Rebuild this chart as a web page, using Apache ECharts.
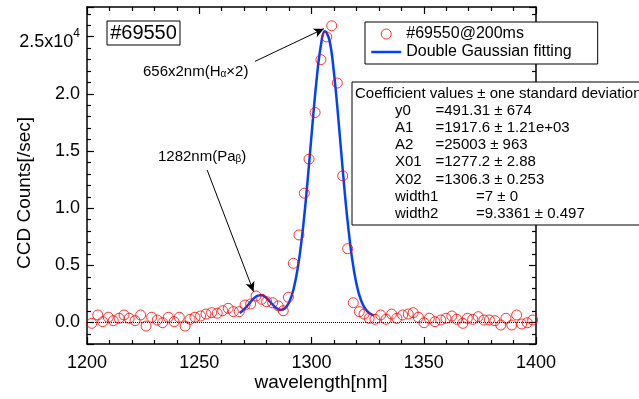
<!DOCTYPE html>
<html>
<head>
<meta charset="utf-8">
<script src="https://cdn.jsdelivr.net/npm/echarts@6/dist/echarts.min.js"></script>
<style>
  html, body { margin: 0; padding: 0; background: #fff; }
  #main { width: 639px; height: 399px; }
</style>
</head>
<body>
<div id="main"></div>
<script>
// measured points (#69550@200ms)
const wavelength = [
  1202.1, 1204.8, 1207.0, 1209.5, 1211.7, 1214.3, 1216.5, 1218.8, 1221.4, 1223.9,
  1226.3, 1228.8, 1231.3, 1233.7, 1236.2, 1238.8, 1241.1, 1243.7, 1245.9, 1248.1,
  1250.6, 1253.0, 1255.5, 1258.0, 1260.4, 1262.9, 1265.2, 1267.8, 1270.4, 1272.9,
  1275.3, 1277.8, 1280.0, 1282.7, 1285.2, 1287.4, 1289.7, 1291.9, 1294.4, 1296.8,
  1298.9, 1301.6, 1304.2, 1306.8, 1309.0, 1311.5, 1313.9, 1316.1, 1318.6, 1321.3,
  1323.4, 1325.7, 1328.3, 1330.8, 1333.2, 1335.7, 1338.0, 1340.6, 1343.1, 1345.3,
  1347.6, 1350.1, 1352.5, 1355.0, 1357.6, 1359.9, 1362.5, 1364.7, 1367.4, 1369.4,
  1371.8, 1374.3, 1376.8, 1379.2, 1381.7, 1384.3, 1386.6, 1389.2, 1391.4, 1393.6,
  1396.1, 1398.5
];
const counts = [
  -70, 660, 70, 460, 160, 370, 660, 370, 160, 660,
  -310, 460, 220, -20, 460, 70, 460, -310, 280, 460,
  570, 740, 860, 810, 1030, 1240, 950, 950, 1530, 1620,
  2320, 2030, 1820, 1730, 1450, 1030, 2210, 5180, 7660, 11310,
  14290, 18370, 22990, 24980, 25960, 20950, 12830, 6460, 1730, 950,
  740, 370, 280, 660, 280, 740, 370, 660, 740, 860,
  460, -20, 370, 70, 220, 370, 570, 280, -70, 370,
  280, 510, 220, 220, 160, -220, 370, -220, 660, -130,
  -20, 220
];

// fitted curve
const fitWavelength = [
  1268, 1270, 1272, 1274, 1276, 1278, 1280, 1282, 1284, 1286,
  1288, 1290, 1292, 1294, 1296, 1298, 1300, 1302, 1304, 1306,
  1308, 1310, 1312, 1314, 1316, 1318, 1320, 1322, 1324, 1326, 1328
];
const fitCounts = [
  830, 1160, 1600, 2050, 2350, 2390, 2130, 1720, 1320, 1110,
  1210, 1750, 2910, 4910, 7900, 11840, 16360, 20720, 24020, 25470,
  24680, 21860, 17720, 13160, 8990, 5700, 3400, 1970, 1180, 780, 600
];

const seriesNames = ["#69550@200ms", "Double Gaussian fitting"];
const coefNames = ["y0", "A1", "A2", "X01", "X02", "width1", "width2"];
const coefValues = [
  "=491.31 ± 674", "=1917.6 ± 1.21e+03", "=25003 ± 963", "=1277.2 ± 2.88",
  "=1306.3 ± 0.253", "=7 ± 0", "=9.3361 ± 0.497"
];

const font = '"Liberation Sans", Arial, Helvetica, sans-serif';

const chart = echarts.init(document.getElementById("main"));

const axisBase = {
  type: "value",
  splitLine: { show: false },
  axisLine: { show: true, onZero: false, lineStyle: { color: "#000", width: 1.5 } },
  axisTick: { show: true, inside: true, length: 7, lineStyle: { color: "#000", width: 1.2 } },
  minorTick: { show: true, splitNumber: 5, length: 4, lineStyle: { color: "#000", width: 1.2 } },
};

const xBase = { ...axisBase, min: 1200, max: 1400, interval: 50 };
const yBase = { ...axisBase, min: -1880, max: 27600, minInterval: 5000, maxInterval: 5000 };

const subRich = { sub: { fontSize: 10, lineHeight: 10, verticalAlign: "bottom", fontFamily: font } };

// graphic pieces: boxes, coefficient table, axis titles, annotation text
const graphics = [
  { type: "rect", shape: { x: 107, y: 21, width: 73, height: 24 },
    style: { fill: "#fff", stroke: "#000", lineWidth: 1 }, z: 100 },
  { type: "text", x: 143.5, y: 33.5, z: 101,
    style: { text: "#69550", fontSize: 20, fontFamily: font, fill: "#000", align: "center", verticalAlign: "middle" } },
  { type: "rect", shape: { x: 352, y: 82, width: 330, height: 143 },
    style: { fill: "#fff", stroke: "#000", lineWidth: 1 }, z: 100 },
  { type: "text", x: 355, y: 93.5, z: 101,
    style: { text: "Coefficient values ± one standard deviation", fontSize: 15, fontFamily: font, fill: "#000", verticalAlign: "middle" } },
  { type: "text", x: 25, y: 193, rotation: Math.PI / 2, z: 101,
    style: { text: "CCD Counts[/sec]", fontSize: 19, fontFamily: font, fill: "#000", align: "center", verticalAlign: "middle" } },
  { type: "text", x: 321, y: 383, z: 101,
    style: { text: "wavelength[nm]", fontSize: 19, fontFamily: font, fill: "#000", align: "center", verticalAlign: "middle" } },
  { type: "text", x: 143, y: 72, z: 101,
    style: { text: "656x2nm(H{sub|α}×2)", fontSize: 15, fontFamily: font, fill: "#000", verticalAlign: "middle", rich: subRich } },
  { type: "text", x: 158, y: 157, z: 101,
    style: { text: "1282nm(Pa{sub|β})", fontSize: 15, fontFamily: font, fill: "#000", verticalAlign: "middle", rich: subRich } },
];
coefNames.forEach((n, i) => {
  const y = 110.7 + i * 17.2;
  graphics.push({ type: "text", x: 395, y: y, z: 101,
    style: { text: n, fontSize: 15, fontFamily: font, fill: "#000", verticalAlign: "middle" } });
  graphics.push({ type: "text", x: i < 5 ? 435.5 : 476, y: y, z: 101,
    style: { text: coefValues[i], fontSize: 15, fontFamily: font, fill: "#000", verticalAlign: "middle" } });
});

const option = {
  animation: false,
  backgroundColor: "#fff",
  grid: { left: 87, right: 103, top: 7, bottom: 55 },
  legend: {
    orient: "vertical",
    left: 365,
    top: 22,
    padding: [4, 26, 4, 5],
    itemGap: 2,
    itemWidth: 30,
    itemHeight: 10,
    borderColor: "#000",
    borderWidth: 1,
    backgroundColor: "#fff",
    textStyle: { fontSize: 16, fontFamily: font, color: "#000", lineHeight: 16 },
    data: [
      { name: seriesNames[0], icon: "circle",
        itemStyle: { color: "rgba(0,0,0,0)", borderColor: "#ff0000", borderWidth: 1 } },
      // line only, hide the marker dot that the legend adds for line series
      { name: seriesNames[1],
        itemStyle: { color: "rgba(0,0,0,0)", borderColor: "rgba(0,0,0,0)", opacity: 0 },
        lineStyle: { color: "#0040ff", width: 2.5, opacity: 1 } },
    ],
  },
  xAxis: [
    { ...xBase, position: "bottom",
      axisLabel: { fontSize: 18, fontFamily: font, color: "#000", margin: 10, formatter: (v) => String(v) } },
    { ...xBase, position: "top", axisLabel: { show: false } },
  ],
  yAxis: [
    { ...yBase, position: "left",
      axisLabel: {
        fontSize: 18, fontFamily: font, color: "#000", margin: 7,
        formatter: function (v) {
          if (v % 5000 !== 0) return "";
          if (v === 25000) return "{m|2.5x10}{sup|4}";
          return (v / 10000).toFixed(1);
        },
        rich: {
          m: { fontSize: 18, fontFamily: font, color: "#000", padding: [10, 0, 0, 0] },
          sup: { fontSize: 12, fontFamily: font, color: "#000", padding: [0, 0, 6, 0] },
        },
      } },
    { ...yBase, position: "right", axisLabel: { show: false } },
  ],
  series: [
    {
      name: seriesNames[0],
      type: "scatter",
      symbol: "circle",
      symbolSize: 10,
      itemStyle: { color: "rgba(0,0,0,0)", borderColor: "#ff0000", borderWidth: 1 },
      data: wavelength.map((w, i) => [w, counts[i]]),
      markLine: {
        silent: true,
        symbol: "none",
        label: { show: false },
        lineStyle: { color: "#000", type: "dotted", width: 1 },
        data: [{ yAxis: 0 }],
      },
      z: 3,
    },
    {
      name: seriesNames[1],
      type: "line",
      smooth: 0.4,
      showSymbol: false,
      symbol: "none",
      lineStyle: { color: "#0040ff", width: 2.5 },
      itemStyle: { color: "#0040ff" },
      data: fitWavelength.map((w, i) => [w, fitCounts[i]]),
      markLine: {
        silent: true,
        symbol: ["none", "arrow"],
        symbolSize: [7, 10],
        label: { show: false },
        lineStyle: { color: "#000", type: "solid", width: 1 },
        data: [
          [{ coord: [1274.8, 22840] }, { coord: [1305.5, 25700] }],
          [{ coord: [1253.5, 13350] }, { coord: [1274.2, 2700] }],
        ],
      },
      z: 2,
    },
  ],
  graphic: graphics,
};

chart.setOption(option);
</script>
</body>
</html>
